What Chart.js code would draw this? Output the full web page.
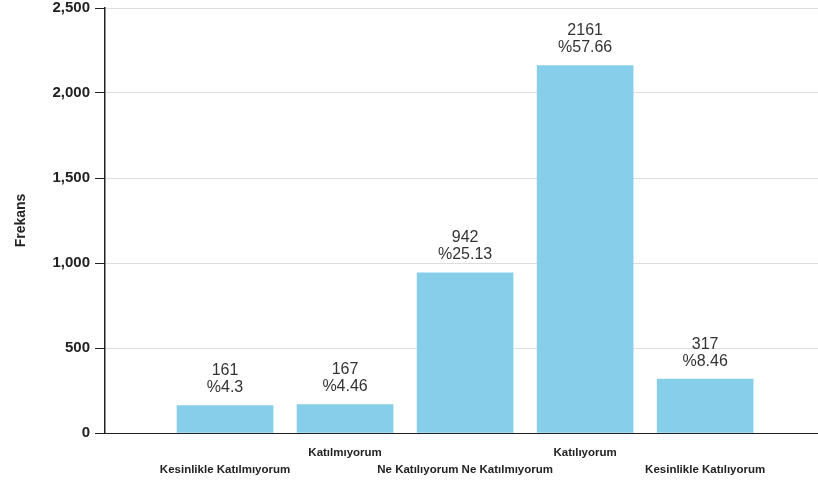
<!DOCTYPE html>
<html>
<head>
<meta charset="utf-8">
<script src="https://cdn.jsdelivr.net/npm/chart.js@4/dist/chart.umd.min.js"></script>
<style>
  html, body { margin: 0; padding: 0; background: #fff; }
  canvas { display: block; }
</style>
</head>
<body>
<canvas id="freqChart" width="818" height="484"></canvas>
<script>
// Frekans dağılımı — beşli Likert yanıtları
const CATEGORIES = [
    'Kesinlikle Katılmıyorum',
    'Katılmıyorum',
    'Ne Katılıyorum Ne Katılmıyorum',
    'Katılıyorum',
    'Kesinlikle Katılıyorum',
];
const COUNTS = [161, 167, 942, 2161, 317];
const PERCENTS = ['4.3', '4.46', '25.13', '57.66', '8.46'];
const Y_TICKS = [0, 500, 1000, 1500, 2000, 2500];

const FONT = "'Liberation Sans', Arial, sans-serif";
const INK = '#222';
const BAR = '#87ceeb';

// count + percentage printed above each bar
const valueLabels = {
    id: 'valueLabels',
    afterDatasetsDraw(chart) {
        const ctx = chart.ctx;
        const meta = chart.getDatasetMeta(0);
        ctx.save();
        ctx.font = '16px ' + FONT;
        ctx.fillStyle = '#333';
        ctx.textAlign = 'center';
        ctx.textBaseline = 'middle';
        meta.data.forEach((bar, i) => {
            ctx.fillText(String(COUNTS[i]), bar.x, bar.y - 35);
            ctx.fillText('%' + PERCENTS[i], bar.x, bar.y - 18);
        });
        ctx.restore();
    },
};

new Chart(document.getElementById('freqChart'), {
    type: 'bar',
    data: {
        datasets: [{
            label: 'Frekans',
            data: COUNTS.map((v, i) => ({ x: i + 1, y: v })),
            backgroundColor: BAR,
            borderWidth: 0,
            barThickness: 96,
        }],
    },
    options: {
        responsive: false,
        animation: false,
        layout: { padding: { top: 0, right: 0, bottom: 0, left: 0 } },
        plugins: {
            legend: { display: false },
            tooltip: { enabled: false },
        },
        scales: {
            x: {
                type: 'linear',
                min: 0,
                max: 5.94,
                offset: false,
                grid: { display: false, offset: false },
                border: { display: true, color: INK, width: 1 },
                afterBuildTicks: (scale) => {
                    scale.ticks = CATEGORIES.map((_, i) => ({ value: i + 1 }));
                },
                afterFit: (scale) => { scale.height = 51; },
                ticks: {
                    autoSkip: false,
                    maxRotation: 0,
                    minRotation: 0,
                    padding: 3,
                    color: INK,
                    font: { family: FONT, size: 11.5, weight: 'bold', lineHeight: 1.5 },
                    callback: (value, index) => {
                        const label = CATEGORIES[index];
                        return index % 2 === 1 ? [label, ''] : ['', label];
                    },
                },
            },
            y: {
                min: 0,
                max: 2500,
                afterBuildTicks: (scale) => {
                    scale.ticks = Y_TICKS.map(v => ({ value: v }));
                },
                afterFit: (scale) => {
                    scale.width = 105;
                    scale.paddingTop = 8;
                },
                grid: { color: '#dddddd', tickColor: INK, tickLength: 10 },
                border: { display: true, color: INK, width: 1.5 },
                ticks: {
                    padding: 5,
                    color: INK,
                    font: { family: FONT, size: 15, weight: 'bold' },
                    callback: (v) => v.toLocaleString('en-US'),
                },
                title: {
                    display: true,
                    text: 'Frekans',
                    color: INK,
                    padding: { top: 13, bottom: 0 },
                    font: { family: FONT, size: 14, weight: 'bold' },
                },
            },
        },
    },
    plugins: [valueLabels],
});
</script>
</body>
</html>
